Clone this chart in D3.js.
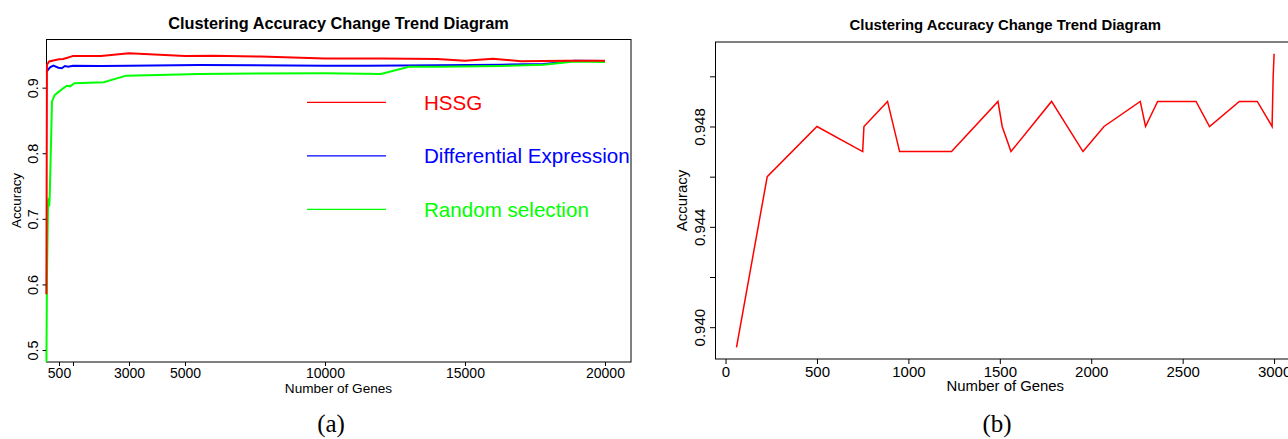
<!DOCTYPE html>
<html>
<head>
<meta charset="utf-8">
<script src="https://cdn.jsdelivr.net/npm/d3@7"></script>
<style>
  body { margin: 0; background: #fff; }
  svg { display: block; font-family: "Liberation Sans", Arial, sans-serif; }
</style>
</head>
<body>
<div id="chart"></div>
<script>
// panel (a): accuracy vs number of genes, three methods
var hssgX = [50, 70, 150, 300, 500, 650, 800, 900, 1000, 2000, 3000, 5000, 6000, 7700, 10000, 12000, 14000, 15000, 16000, 17000, 18600, 20000];
var hssgY = [0.585, 0.935, 0.940, 0.9415, 0.9433, 0.9437, 0.9457, 0.947, 0.9483, 0.9483, 0.9524, 0.9483, 0.9488, 0.9475, 0.9445, 0.9445, 0.9437, 0.9412, 0.9442, 0.9402, 0.9412, 0.9412];

var deX = [50, 180, 300, 480, 600, 710, 830, 1000, 2000, 3000, 5500, 10000, 11500, 14000, 16300, 17800, 18300, 18900, 20000];
var deY = [0.924, 0.931, 0.9335, 0.9305, 0.9296, 0.933, 0.932, 0.9335, 0.933, 0.9335, 0.9346, 0.9335, 0.9335, 0.9341, 0.935, 0.936, 0.938, 0.941, 0.9407];

var rsX = [50, 70, 110, 130, 150, 170, 250, 350, 500, 650, 780, 900, 1050, 2100, 2900, 5500, 10000, 12000, 13000, 14000, 16300, 17800, 18900, 20000];
var rsY = [0.47, 0.61, 0.725, 0.732, 0.719, 0.735, 0.879, 0.889, 0.894, 0.899, 0.903, 0.902, 0.9067, 0.9082, 0.9183, 0.921, 0.922, 0.9209, 0.932, 0.932, 0.9331, 0.935, 0.940, 0.9392];

var legendNames = ["HSSG", "Differential Expression", "Random selection"];
var legendColors = ["#ff0000", "#0000ff", "#00ff00"];

var xTicksA = [500, 1000, 3000, 5000, 10000, 15000, 20000];
var xLabelsA = ["500", "", "3000", "5000", "10000", "15000", "20000"];
var yTicksA = [0.5, 0.6, 0.7, 0.8, 0.9];

// panel (b): HSSG, first 3000 genes
var bX = [60, 228, 500, 750, 757, 886, 952, 1236, 1490, 1513, 1561, 1783, 1955, 2070, 2268, 2297, 2363, 2573, 2647, 2810, 2908, 2989, 2995, 3000];
var bY = [0.9392, 0.946, 0.948, 0.947, 0.948, 0.949, 0.947, 0.947, 0.949, 0.948, 0.947, 0.949, 0.947, 0.948, 0.949, 0.948, 0.949, 0.949, 0.948, 0.949, 0.949, 0.948, 0.950, 0.9509];

var xTicksB = [0, 500, 1000, 1500, 2000, 2500, 3000];
var yTicksB = [0.940, 0.942, 0.944, 0.946, 0.948, 0.950];
var yLabelsB = ["0.940", "", "0.944", "", "0.948", ""];

var title = "Clustering Accuracy Change Trend Diagram";

var svg = d3.select("#chart").append("svg")
  .attr("width", 1288)
  .attr("height", 439);

function zip(xs, ys) { return xs.map(function(v, i) { return [v, ys[i]]; }); }

// ---------- panel (a) ----------
var ax = d3.scaleLinear().domain([36, 20930]).range([46, 631]);
var ay = d3.scaleLinear().domain([0.4817, 0.9742]).range([362, 39]);

svg.append("rect").attr("x", 46.5).attr("y", 39.5).attr("width", 584.5).attr("height", 322.5)
  .attr("fill", "none").attr("stroke", "#000").attr("stroke-width", 1);

svg.append("clipPath").attr("id", "clipA")
  .append("rect").attr("x", 44).attr("y", 39).attr("width", 587).attr("height", 323);

var lineA = d3.line().x(function(d) { return ax(d[0]); }).y(function(d) { return ay(d[1]); });
var gA = svg.append("g").attr("clip-path", "url(#clipA)");
gA.append("path").datum(zip(deX, deY)).attr("d", lineA)
  .attr("fill", "none").attr("stroke", "#0000ff").attr("stroke-width", 2);
gA.append("path").datum(zip(rsX, rsY)).attr("d", lineA)
  .attr("fill", "none").attr("stroke", "#00ff00").attr("stroke-width", 2);
gA.append("path").datum(zip(hssgX, hssgY)).attr("d", lineA)
  .attr("fill", "none").attr("stroke", "#ff0000").attr("stroke-width", 2);

// x axis (a)
var xa = svg.append("g").attr("transform", "translate(0,362)")
  .call(d3.axisBottom(ax).tickValues(xTicksA).tickSize(4).tickSizeOuter(0)
    .tickFormat(function(d, i) { return xLabelsA[i]; }));
xa.select(".domain").remove();
xa.selectAll("text").attr("y", 6).attr("dy", "0.71em").attr("font-size", "14px").attr("fill", "#000").attr("font-family", null);

// y axis (a)
var ya = svg.append("g").attr("transform", "translate(46,0)")
  .call(d3.axisLeft(ay).tickValues(yTicksA).tickSize(3.5).tickFormat(d3.format(".1f")));
ya.select(".domain").remove();
ya.selectAll("text")
  .attr("x", null).attr("dy", null)
  .attr("text-anchor", "middle").attr("font-size", "14.5px").attr("fill", "#000").attr("font-family", null)
  .attr("transform", "translate(-8.5,0) rotate(-90)");

svg.append("text").attr("x", 338.5).attr("y", 29.3).attr("text-anchor", "middle")
  .attr("font-weight", "bold").attr("font-size", "16.3px").text(title);
svg.append("text").attr("x", 338.5).attr("y", 392.5).attr("text-anchor", "middle")
  .attr("font-size", "13.6px").text("Number of Genes");
svg.append("text").attr("transform", "translate(20.5,200.5) rotate(-90)").attr("text-anchor", "middle")
  .attr("font-size", "13.4px").text("Accuracy");

// legend (a)
var leg = svg.append("g").selectAll("g").data(legendNames).enter().append("g")
  .attr("transform", function(d, i) { return "translate(0," + (102.3 + i * 53.5) + ")"; });
leg.append("line").attr("x1", 307).attr("x2", 386).attr("y1", 0).attr("y2", 0)
  .attr("stroke", function(d, i) { return legendColors[i]; }).attr("stroke-width", 1.2);
leg.append("text").attr("x", 424).attr("dy", "0.36em").attr("font-size", "20.6px")
  .attr("fill", function(d, i) { return legendColors[i]; }).text(function(d) { return d; });

// ---------- panel (b) ----------
var bpad = (d3.max(bX) - d3.min(bX)) * 0.04;
var bx = d3.scaleLinear().domain([d3.min(bX) - bpad, d3.max(bX) + bpad]).range([715, 1295.6]);
var ypad = (d3.max(bY) - d3.min(bY)) * 0.04;
var by = d3.scaleLinear().domain([d3.min(bY) - ypad, d3.max(bY) + ypad]).range([359, 42]);

svg.append("path").datum(zip(bX, bY))
  .attr("d", d3.line().x(function(d) { return bx(d[0]); }).y(function(d) { return by(d[1]); }))
  .attr("fill", "none").attr("stroke", "#ff0000").attr("stroke-width", 1.5);

svg.append("rect").attr("x", 715.5).attr("y", 42).attr("width", 580).attr("height", 317)
  .attr("fill", "none").attr("stroke", "#000").attr("stroke-width", 1);

var xb = svg.append("g").attr("transform", "translate(0,359)")
  .call(d3.axisBottom(bx).tickValues(xTicksB).tickSize(5).tickFormat(d3.format("d")));
xb.select(".domain").remove();
xb.selectAll("text").attr("y", 7).attr("dy", "0.71em").attr("font-size", "15px").attr("fill", "#000").attr("font-family", null);

var yb = svg.append("g").attr("transform", "translate(715,0)")
  .call(d3.axisLeft(by).tickValues(yTicksB).tickSize(5)
    .tickFormat(function(d, i) { return yLabelsB[i]; }));
yb.select(".domain").remove();
yb.selectAll("text")
  .attr("x", null).attr("dy", null)
  .attr("text-anchor", "middle").attr("font-size", "15px").attr("fill", "#000").attr("font-family", null)
  .attr("transform", "translate(-10,0) rotate(-90)");

svg.append("text").attr("x", 1005.3).attr("y", 30).attr("text-anchor", "middle")
  .attr("font-weight", "bold").attr("font-size", "14.9px").text(title);
svg.append("text").attr("x", 1005.3).attr("y", 391).attr("text-anchor", "middle")
  .attr("font-size", "14.9px").text("Number of Genes");
svg.append("text").attr("transform", "translate(687,200.5) rotate(-90)").attr("text-anchor", "middle")
  .attr("font-size", "15px").text("Accuracy");

// captions
svg.append("text").attr("x", 331).attr("y", 432).attr("text-anchor", "middle")
  .attr("font-family", "'Liberation Serif', 'DejaVu Serif', serif").attr("font-size", "25px").text("(a)");
svg.append("text").attr("x", 997).attr("y", 432).attr("text-anchor", "middle")
  .attr("font-family", "'Liberation Serif', 'DejaVu Serif', serif").attr("font-size", "25px").text("(b)");
</script>
</body>
</html>
